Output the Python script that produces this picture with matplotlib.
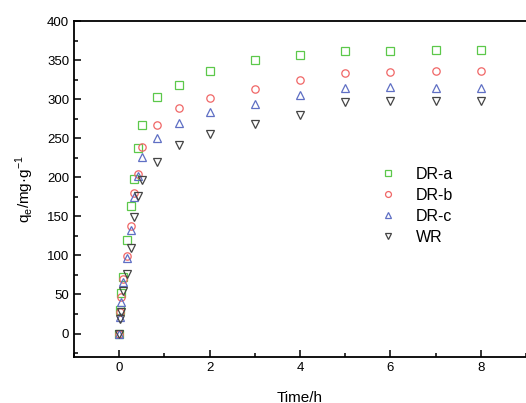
import matplotlib
matplotlib.use("Agg")
import matplotlib.pyplot as plt
from matplotlib.ticker import MultipleLocator

plt.rcParams['font.family'] = ['Liberation Sans', 'DejaVu Sans']
plt.rcParams['mathtext.fontset'] = 'custom'
plt.rcParams['mathtext.rm'] = 'Liberation Sans'

time_min = [0, 1, 3, 5, 10, 15, 20, 25, 30, 50, 80, 120, 180, 240, 300, 360, 420, 480]
time_h = [t / 60 for t in time_min]

dr_a = [0, 30, 52, 72, 120, 163, 198, 238, 267, 303, 318, 335.5, 349.6, 356.4, 361, 361.5, 362.4, 363]
dr_b = [0, 28, 47, 70, 99, 138, 180, 204, 239, 267, 289, 302, 313, 324, 333, 334.6, 335.5, 335.5]
dr_c = [0, 21, 40, 66, 96.5, 133, 175, 201, 226, 250, 270, 284, 294, 305, 314, 315, 314, 314]
wr = [0, 18, 27, 54, 76, 110, 149, 176, 196, 219, 241, 256, 268, 280, 296.5, 297.4, 297, 297]

labels = ['DR-a', 'DR-b', 'DR-c', 'WR']
series = [dr_a, dr_b, dr_c, wr]
markers = ['s', 'o', '^', 'v']
colors = ['#5cc84a', '#f06666', '#5f6fc4', '#444444']

fig = plt.figure(figsize=(5.26, 4.03), dpi=100)
ax = fig.add_axes([74/526, 1 - 357/403, 1 - 74/526, (357 - 21)/403])

for y, lab, m, c in zip(series, labels, markers, colors):
    ax.plot(time_h, y, linestyle='none', marker=m, markersize=5.3,
            markerfacecolor='none', markeredgecolor=c, markeredgewidth=0.9, label=lab)

ax.set_xlim(-1, 9)
ax.set_ylim(-30, 400)
ax.xaxis.set_major_locator(MultipleLocator(2))
ax.xaxis.set_minor_locator(MultipleLocator(1))
ax.yaxis.set_major_locator(MultipleLocator(50))
ax.yaxis.set_minor_locator(MultipleLocator(25))
ax.tick_params(which='both', direction='in', top=False, right=False, labelsize=9.5, width=1.1)
ax.tick_params(which='major', length=5)
ax.tick_params(which='minor', length=3)
for s in ['left', 'bottom', 'top']:
    ax.spines[s].set_linewidth(1.3)
ax.spines['right'].set_visible(False)

ax.set_xlabel('Time/h', fontsize=11, labelpad=12)
ax.set_ylabel(r'q$_\mathregular{e}$/mg·g$^\mathregular{-1}$', fontsize=11, labelpad=8)

ax.legend(loc='upper left', bbox_to_anchor=(0.665, 0.585), frameon=False, fontsize=11.5,
          handlelength=0.9, handletextpad=1.3, labelspacing=0.38, borderaxespad=0,
          markerscale=0.8)

fig.savefig('out.png', dpi=100)
